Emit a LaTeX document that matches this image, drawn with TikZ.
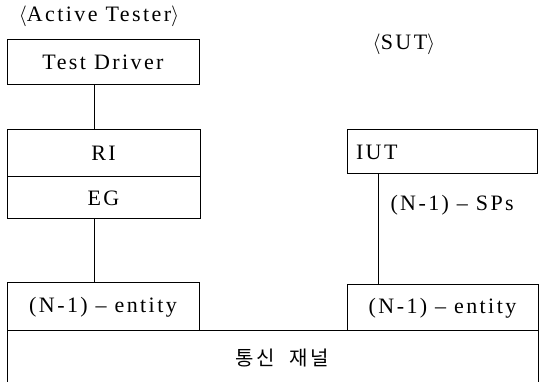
\documentclass[tikz,border=0pt]{standalone}
\usepackage{fontspec}
\setmainfont{Liberation Serif}
\newfontfamily\krfont{Noto Sans CJK KR}
\newfontfamily\spfont[LetterSpace=11,Ligatures=TeX]{Liberation Serif}
\begin{document}
\begin{tikzpicture}[x=1pt,y=-1pt,line width=1pt,
  box/.style={draw,rectangle,inner sep=0pt,font=\spfont\fontsize{22}{26}\selectfont},
  lbl/.style={inner sep=0pt,font=\spfont\fontsize{22}{26}\selectfont}]
\useasboundingbox (0,0) rectangle (539,382);
\node[lbl] (at) at (99,16) {$\langle$Active Tester$\rangle$};
\node[lbl] (sut) at (404,44) {$\langle$SUT$\rangle$};
\node[box,minimum width=192,minimum height=45] (td) at (103,62.5) {Test Driver};
\node[box,minimum width=193,minimum height=47] (ri) at (103.5,153.5) {RI};
\node[box,minimum width=193,minimum height=42] (eg) at (103.5,198) {EG};
\node[box,minimum width=192,minimum height=48] (entL) at (103,307) {(N-1) – entity};
\node[box,minimum width=190,minimum height=44,text width=172,align=left,inner xsep=9] (iut) at (442,152) {IUT};
\node[box,minimum width=191,minimum height=46] (entR) at (442.5,308) {(N-1) – entity};
\coordinate (lx) at (94,0);
\coordinate (rx) at (378.5,0);
\draw (td.south -| lx) -- (ri.north -| lx);
\draw (eg.south -| lx) -- (entL.north -| lx);
\draw (iut.south -| rx) -- (entR.north -| rx);
\node[lbl,anchor=west] (sps) at (390,205) {(N-1) – SPs};
\coordinate (c1) at (7,382);
\coordinate (c2) at (7,331);
\coordinate (c3) at (538,331);
\coordinate (c4) at (538,382);
\draw (c1) -- (c2) -- (c3) -- (c4);
\node[inner sep=0pt,font=\krfont\fontsize{20}{24}\selectfont] (chan) at (282,358) {통\hspace{3pt}신\hspace{14pt}재\hspace{3pt}널};
\end{tikzpicture}
\end{document}
